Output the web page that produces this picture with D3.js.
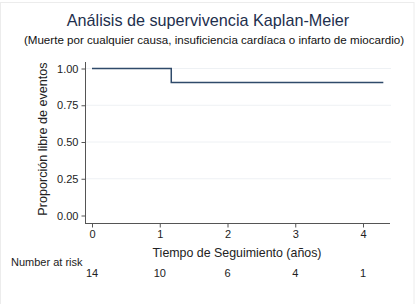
<!DOCTYPE html>
<html>
<head>
<meta charset="utf-8">
<script src="https://cdn.jsdelivr.net/npm/d3@7"></script>
<style>
  body { margin: 0; background: #fff; }
  svg { font-family: "Liberation Sans", Arial, sans-serif; }
</style>
</head>
<body>
<div id="chart"></div>
<script>
// Kaplan-Meier step data (time in years, survival proportion)
var kmTimes = [0, 1.17, 1.17, 4.3];
var kmSurv = [1.0, 1.0, 0.905, 0.905];
var yTicks = [0, 0.25, 0.5, 0.75, 1.0];
var xTicks = [0, 1, 2, 3, 4];
var atRisk = [14, 10, 6, 4, 1];

var width = 417, height = 304;

var svg = d3.select("#chart").append("svg")
  .attr("width", width)
  .attr("height", height);

// faint outer frame
svg.append("rect")
  .attr("x", 0.5).attr("y", 2.5)
  .attr("width", 413.5).attr("height", 310)
  .attr("fill", "none")
  .attr("stroke", "#ececec");

var xScale = d3.scaleLinear()
  .domain([0, 4])
  .range([92, 363]);

var yScale = d3.scaleLinear()
  .domain([0, 1])
  .range([215.5, 68.5]);

// grid lines
svg.append("g").selectAll("line")
  .data(yTicks.filter(function (d) { return d > 0; }))
  .enter().append("line")
  .attr("x1", 86).attr("x2", 391)
  .attr("y1", function (d) { return yScale(d); })
  .attr("y2", function (d) { return yScale(d); })
  .attr("stroke", "#eef1f4")
  .attr("stroke-width", 1);

// y axis
var yAxis = d3.axisLeft(yScale)
  .tickValues(yTicks)
  .tickSize(4)
  .tickPadding(3)
  .tickFormat(d3.format(".2f"));

var gy = svg.append("g")
  .attr("transform", "translate(85.5,0)")
  .call(yAxis);
gy.select(".domain").attr("d", "M0,62V223.5");

// x axis
var xAxis = d3.axisBottom(xScale)
  .tickValues(xTicks)
  .tickSize(4)
  .tickPadding(3)
  .tickFormat(d3.format("d"));

var gx = svg.append("g")
  .attr("transform", "translate(0,223.5)")
  .call(xAxis);
gx.select(".domain").attr("d", "M85,0H390");

[gx, gy].forEach(function (g) {
  g.selectAll(".domain, .tick line").attr("stroke", "#555");
  g.selectAll("text").attr("font-size", "11px").attr("fill", "#222");
});

// survival curve
var line = d3.line()
  .x(function (d) { return xScale(d[0]); })
  .y(function (d) { return yScale(d[1]); });

svg.append("path")
  .datum(kmTimes.map(function (t, i) { return [t, kmSurv[i]]; }))
  .attr("d", line)
  .attr("fill", "none")
  .attr("stroke", "#2f4a6a")
  .attr("stroke-width", 1.5);

// titles
svg.append("text")
  .attr("x", 208).attr("y", 26)
  .attr("text-anchor", "middle")
  .attr("font-size", "16.2px")
  .attr("fill", "#1e2f4d")
  .text("Análisis de supervivencia Kaplan-Meier");

svg.append("text")
  .attr("x", 214).attr("y", 44)
  .attr("text-anchor", "middle")
  .attr("font-size", "11.6px")
  .attr("fill", "#111")
  .text("(Muerte por cualquier causa, insuficiencia cardíaca o infarto de miocardio)");

svg.append("text")
  .attr("transform", "translate(47,139) rotate(-90)")
  .attr("text-anchor", "middle")
  .attr("font-size", "12.6px")
  .attr("fill", "#222")
  .text("Proporción libre de eventos");

svg.append("text")
  .attr("x", 237).attr("y", 257)
  .attr("text-anchor", "middle")
  .attr("font-size", "12.4px")
  .attr("fill", "#222")
  .text("Tiempo de Seguimiento (años)");

// number at risk table
svg.append("text")
  .attr("x", 11).attr("y", 266)
  .attr("font-size", "11px")
  .attr("fill", "#222")
  .text("Number at risk");

svg.append("g").selectAll("text")
  .data(atRisk)
  .enter().append("text")
  .attr("x", function (d, i) { return xScale(xTicks[i]); })
  .attr("y", 277)
  .attr("text-anchor", "middle")
  .attr("font-size", "11px")
  .attr("fill", "#222")
  .text(function (d) { return d; });
</script>
</body>
</html>
